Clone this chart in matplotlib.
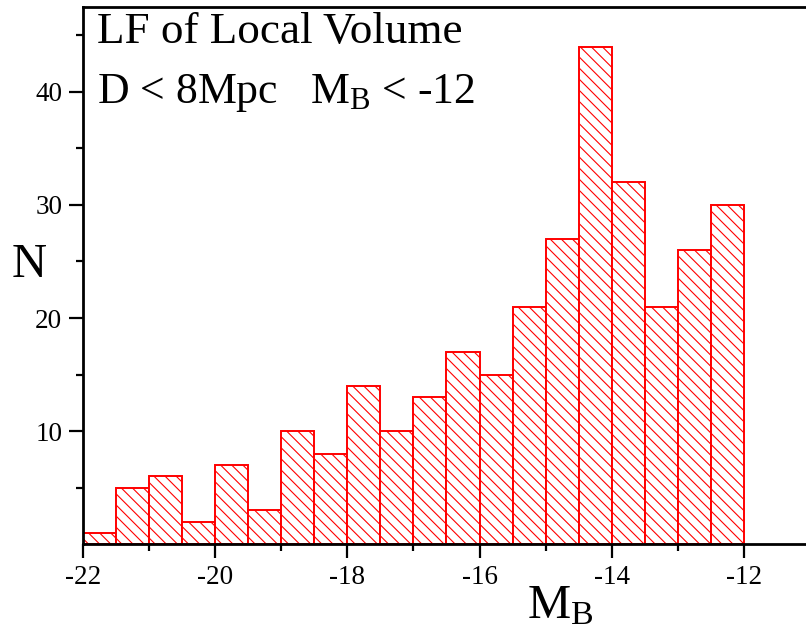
import matplotlib
matplotlib.use('Agg')
import matplotlib.pyplot as plt
import numpy as np

# bin edges (M_B) and counts
bin_left = np.arange(-22.0, -12.0, 0.5)
counts = [1, 5, 6, 2, 7, 3, 10, 8, 14, 10, 13, 17, 15, 21, 27, 44, 32, 21, 26, 30]
bin_width = 0.5

xticks = [-22, -20, -18, -16, -14, -12]
yticks = [10, 20, 30, 40]

plt.rcParams['font.family'] = ['Liberation Serif', 'DejaVu Serif']
plt.rcParams['mathtext.fontset'] = 'custom'
plt.rcParams['mathtext.rm'] = 'Liberation Serif'
plt.rcParams['mathtext.it'] = 'Liberation Serif:italic'
plt.rcParams['hatch.linewidth'] = 0.8
plt.rcParams['hatch.color'] = 'red'

fig = plt.figure(figsize=(8.06, 6.41), dpi=100)
ax = fig.add_axes([0.103, 0.151, 0.897, 0.838])

ax.bar(bin_left, counts, width=bin_width, align='edge', facecolor='white',
       edgecolor='red', linewidth=1.4, hatch='\\\\\\')

ax.set_xlim(-22, -11.06)
ax.set_ylim(0, 47.5)

ax.set_xticks(xticks)
ax.set_xticklabels([str(t) for t in xticks])
ax.set_xticks(np.arange(-21, -11, 2), minor=True)
ax.set_yticks(yticks)
ax.set_yticks([5, 15, 25, 35, 45], minor=True)

ax.tick_params(which='major', direction='out', length=10, width=1.6, labelsize=19.5, pad=5)
ax.tick_params(which='minor', direction='out', length=5, width=1.6)

for side in ['left', 'bottom', 'top']:
    ax.spines[side].set_linewidth(2)
ax.spines['right'].set_visible(False)

ax.set_xlabel(r'M$_\mathregular{B}$', fontsize=35, va='center', ha='center')
ax.xaxis.set_label_coords(0.66, -0.115)
ax.set_ylabel('N', fontsize=35, rotation=0, va='center', ha='center')
ax.yaxis.set_label_coords(-0.075, 0.52)

ax.text(0.02, 0.99, 'LF of Local Volume', transform=ax.transAxes, fontsize=32.5,
        va='top', ha='left')
ax.text(0.02, 0.88, r'D < 8Mpc   M$_\mathregular{B}$ < -12', transform=ax.transAxes,
        fontsize=31.5, va='top', ha='left')

fig.savefig('out.png', dpi=100)
